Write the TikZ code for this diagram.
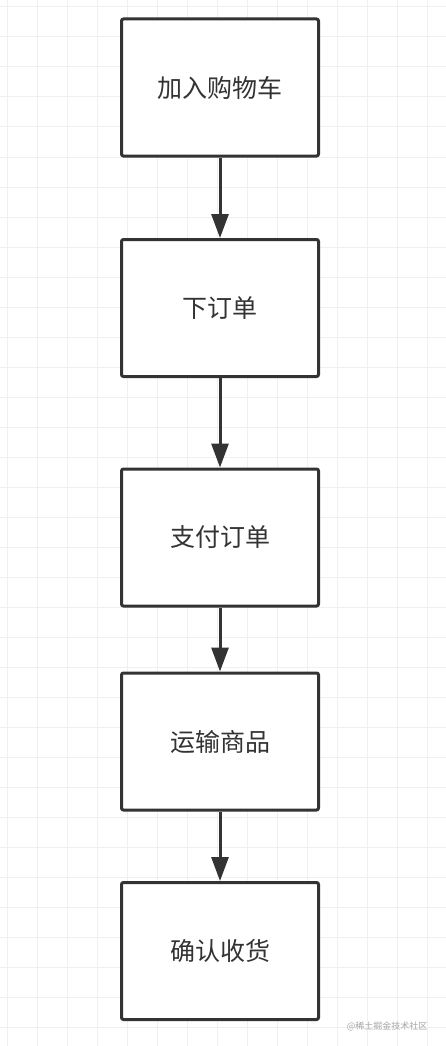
\documentclass[tikz,border=0pt]{standalone}
\usepackage{fontspec}
\setmainfont{Noto Sans CJK SC}
\usetikzlibrary{arrows.meta}
\definecolor{ink}{HTML}{333333}
\definecolor{gridgray}{HTML}{F0F0F0}
\tikzset{
	stepbox/.style={draw=ink, line width=3pt, fill=white, rounded corners=2pt,
		minimum width=197pt, minimum height=137pt, inner sep=0pt,
		font=\fontsize{25}{30}\selectfont, text=ink},
	flow/.style={draw=ink, line width=3pt, -{Triangle[length=24pt,width=17pt]}}
}
\begin{document}
\begin{tikzpicture}[x=1pt,y=-1pt]
		% Background and grid
		\fill[white] (0,0) rectangle (446,1046);
		\useasboundingbox (0,0) rectangle (446,1046);
		\foreach \gx in {7,37,...,446}
			\draw[gridgray, line width=1pt] (\gx,0) -- (\gx,1046);
		\foreach \gy in {7,37,...,1046}
			\draw[gridgray, line width=1pt] (0,\gy) -- (446,\gy);
		
		% Boxes
		\node[stepbox] (cart) at (220,87.5) {加入购物车};
		\node[stepbox] (order) at (220,308) {下订单};
		\node[stepbox] (pay) at (220,537.5) {支付订单};
		\node[stepbox] (ship) at (220,741.5) {运输商品};
		\node[stepbox] (receive) at (220,951) {确认收货};
		
		% Arrows
		\draw[flow] (cart) -- (order);
		\draw[flow] (order) -- (pay);
		\draw[flow] (pay) -- (ship);
		\draw[flow] (ship) -- (receive);
		
		% Watermark
		\node[text=gray!70, font=\fontsize{9}{11}\selectfont, anchor=east] (mark) at (431,1026) {@稀土掘金技术社区};
	\end{tikzpicture}
\end{document}
